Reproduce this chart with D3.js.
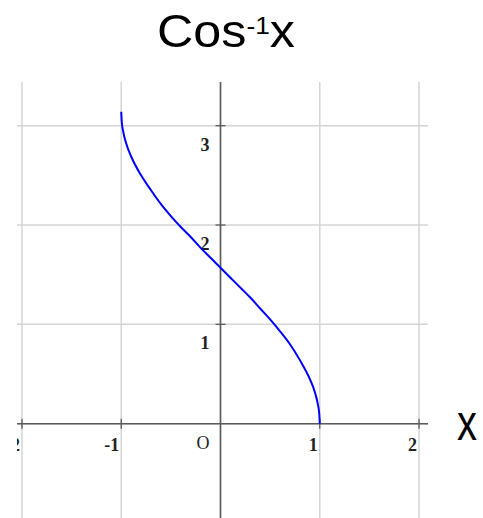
<!DOCTYPE html>
<html>
<head>
<meta charset="utf-8">
<script src="https://cdn.jsdelivr.net/npm/d3@7/dist/d3.min.js"></script>
<style>
  html, body { margin: 0; padding: 0; background: #ffffff; }
  svg { display: block; }
</style>
</head>
<body>
<script>
// Sample points of y = arccos(x)
const xValues = [-1, -0.995, -0.98, -0.95, -0.9, -0.8, -0.7, -0.6, -0.5, -0.4, -0.3, -0.2, -0.1,
                 0, 0.1, 0.2, 0.3, 0.4, 0.5, 0.6, 0.7, 0.8, 0.9, 0.95, 0.98, 0.995, 1];
const yValues = [3.14, 3.04, 2.94, 2.82, 2.69, 2.50, 2.35, 2.21, 2.09, 1.98, 1.88, 1.77, 1.67,
                 1.57, 1.47, 1.37, 1.27, 1.16, 1.05, 0.93, 0.80, 0.64, 0.45, 0.32, 0.20, 0.10, 0];

// Tick positions and their labels
const xTicks = [-2, -1, 1, 2];
const xTickLabels = ["-2", "-1", "1", "2"];
const yTicks = [1, 2, 3];
const yTickLabels = ["1", "2", "3"];
const originLabel = "O";

const W = 483, H = 518;
const view = { left: 17, right: 428, top: 82, bottom: 518 };

const x = d3.scaleLinear().domain([-2, 2]).range([22, 419]);
const y = d3.scaleLinear().domain([0, 3]).range([423.7, 125.7]);

const svg = d3.select("body").append("svg")
  .attr("width", W).attr("height", H);

svg.append("defs").append("clipPath").attr("id", "view")
  .append("rect")
  .attr("x", view.left).attr("y", view.top)
  .attr("width", view.right - view.left).attr("height", view.bottom - view.top);

const g = svg.append("g").attr("clip-path", "url(#view)");

// Grid
const gridX = d3.range(-2, 3);
const gridY = d3.range(0, 4);
g.selectAll("line.gx").data(gridX).join("line")
  .attr("x1", d => x(d)).attr("x2", d => x(d))
  .attr("y1", view.top).attr("y2", view.bottom)
  .attr("stroke", "#d4d4d4").attr("stroke-width", 1.5);
g.selectAll("line.gy").data(gridY).join("line")
  .attr("y1", d => y(d)).attr("y2", d => y(d))
  .attr("x1", view.left).attr("x2", view.right)
  .attr("stroke", "#d4d4d4").attr("stroke-width", 1.5);

// Axes
g.append("line")
  .attr("x1", view.left).attr("x2", view.right)
  .attr("y1", y(0)).attr("y2", y(0))
  .attr("stroke", "#5a5a5a").attr("stroke-width", 1.6);
g.append("line")
  .attr("x1", x(0)).attr("x2", x(0))
  .attr("y1", view.top).attr("y2", view.bottom)
  .attr("stroke", "#5a5a5a").attr("stroke-width", 1.6);

// Tick marks
g.selectAll("line.tx").data(xTicks).join("line")
  .attr("x1", d => x(d)).attr("x2", d => x(d))
  .attr("y1", y(0) - 5).attr("y2", y(0) + 5)
  .attr("stroke", "#5a5a5a").attr("stroke-width", 1.3);
g.selectAll("line.ty").data(yTicks).join("line")
  .attr("y1", d => y(d)).attr("y2", d => y(d))
  .attr("x1", x(0) - 5).attr("x2", x(0) + 5)
  .attr("stroke", "#5a5a5a").attr("stroke-width", 1.3);

// Tick labels
const labelFont = "'Liberation Serif', 'Times New Roman', serif";
g.selectAll("text.lx").data(xTicks).join("text")
  .attr("x", d => x(d) - 2).attr("y", y(0) + 27)
  .attr("text-anchor", "end")
  .attr("font-family", labelFont).attr("font-weight", "bold")
  .attr("font-size", 18).attr("fill", "#222")
  .text((d, i) => xTickLabels[i]);
g.selectAll("text.ly").data(yTicks).join("text")
  .attr("x", x(0) - 11).attr("y", d => y(d) + 25)
  .attr("text-anchor", "end")
  .attr("font-family", labelFont).attr("font-weight", "bold")
  .attr("font-size", 18).attr("fill", "#222")
  .text((d, i) => yTickLabels[i]);
g.append("text")
  .attr("x", x(0) - 11).attr("y", y(0) + 25)
  .attr("text-anchor", "end")
  .attr("font-family", labelFont)
  .attr("font-size", 18).attr("fill", "#222")
  .text(originLabel);

// Curve
const pts = xValues.map((v, i) => [v, yValues[i]]);
g.append("path")
  .datum(pts)
  .attr("fill", "none")
  .attr("stroke", "#0000ff")
  .attr("stroke-width", 2)
  .attr("d", d3.line().x(d => x(d[0])).y(d => y(d[1])).curve(d3.curveMonotoneX));

// Title
const title = svg.append("text")
  .attr("x", 157).attr("y", 47)
  .attr("font-family", "'Liberation Sans', Arial, sans-serif")
  .attr("font-size", 46).attr("fill", "#000")
  .attr("textLength", 138).attr("lengthAdjust", "spacingAndGlyphs");
title.append("tspan").text("Cos");
title.append("tspan").attr("font-size", 24).attr("dy", -13).text("-1");
title.append("tspan").attr("dy", 13).text("x");

// Horizontal axis name
svg.append("text")
  .attr("x", 457).attr("y", 440)
  .attr("font-family", "'Liberation Sans', Arial, sans-serif")
  .attr("font-size", 50).attr("fill", "#000")
  .attr("textLength", 20).attr("lengthAdjust", "spacingAndGlyphs")
  .text("x");
</script>
</body>
</html>
